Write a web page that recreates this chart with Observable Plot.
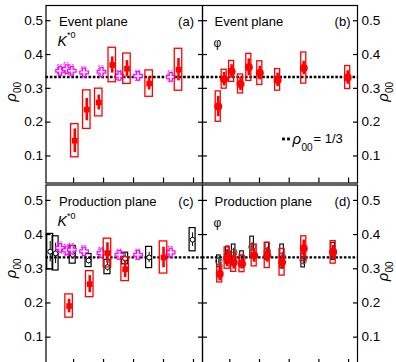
<!DOCTYPE html>
<html><head><meta charset="utf-8">
<script src="https://cdn.jsdelivr.net/npm/d3@7"></script>
<script src="https://cdn.jsdelivr.net/npm/@observablehq/plot@0.6"></script>
<style>
html,body{margin:0;padding:0;background:#fff;}
#chart{position:relative;width:396px;height:362px;overflow:hidden;}
</style></head><body><div id="chart"></div>
<script>
// ---------- axis ticks / reference ----------
const yTicks = [0.1, 0.2, 0.3, 0.4, 0.5];
const xTicks = [1, 2, 3, 4, 5];
const rhoRef = [1 / 3];

// ---------- (a) K*0, event plane, Pb-Pb (red) ----------
const aPt   = [1.04, 1.44, 1.84, 2.29, 2.78, 3.52, 4.50];
const aRho  = [0.145, 0.237, 0.258, 0.369, 0.358, 0.314, 0.355];
const aStat = [0.035, 0.033, 0.022, 0.024, 0.024, 0.019, 0.033];
const aSys  = [0.049, 0.057, 0.041, 0.051, 0.045, 0.039, 0.062];
// (a) K0S control (magenta)
const kPtA   = [0.55, 0.77, 0.94, 1.35, 1.93, 2.53, 3.15, 4.24];
const kRhoA  = [0.352, 0.357, 0.352, 0.347, 0.349, 0.337, 0.337, 0.334];
const kStatA = [0.004, 0.004, 0.004, 0.004, 0.004, 0.004, 0.004, 0.004];
const kSysA  = [0.016, 0.017, 0.016, 0.015, 0.016, 0.014, 0.015, 0.016];

// ---------- (b) phi, event plane, Pb-Pb ----------
const bPt   = [0.61, 0.81, 1.06, 1.36, 1.64, 2.01, 2.61, 3.49, 4.97];
const bRho  = [0.246, 0.327, 0.350, 0.313, 0.362, 0.345, 0.325, 0.360, 0.332];
const bStat = [0.030, 0.020, 0.020, 0.020, 0.025, 0.020, 0.020, 0.020, 0.020];
const bSys  = [0.045, 0.028, 0.031, 0.028, 0.040, 0.035, 0.032, 0.046, 0.034];

// ---------- (c) K*0, production plane ----------
const cPt   = [0.85, 1.54, 2.13, 2.72, 4.00];
const cRho  = [0.191, 0.255, 0.346, 0.299, 0.333];
const cStat = [0.020, 0.025, 0.030, 0.025, 0.030];
const cSys  = [0.034, 0.038, 0.042, 0.035, 0.047];
// (c) pp (black)
const ppPtC   = [0.22, 0.40, 0.97, 1.50, 2.13, 2.72, 3.52, 4.97];
const ppRhoC  = [0.350, 0.345, 0.341, 0.324, 0.305, 0.330, 0.333, 0.385];
const ppStatC = [0.030, 0.030, 0.012, 0.010, 0.012, 0.015, 0.015, 0.020];
const ppSysC  = [0.052, 0.050, 0.026, 0.019, 0.021, 0.017, 0.031, 0.034];
// (c) K0S control (magenta)
const kPtC   = [0.55, 0.77, 0.94, 1.35, 1.93, 2.53, 3.15, 4.24];
const kRhoC  = [0.361, 0.354, 0.356, 0.351, 0.346, 0.341, 0.341, 0.348];
const kStatC = [0.004, 0.004, 0.004, 0.004, 0.004, 0.004, 0.004, 0.004];
const kSysC  = [0.016, 0.016, 0.016, 0.015, 0.015, 0.015, 0.015, 0.016];

// ---------- (d) phi, production plane ----------
const dPt   = [0.66, 0.91, 1.13, 1.41, 1.82, 2.26, 2.76, 3.49, 4.48];
const dRho  = [0.285, 0.331, 0.319, 0.314, 0.339, 0.339, 0.319, 0.359, 0.348];
const dStat = [0.020, 0.025, 0.020, 0.015, 0.020, 0.020, 0.020, 0.025, 0.020];
const dSys  = [0.025, 0.031, 0.028, 0.024, 0.032, 0.037, 0.039, 0.036, 0.033];
// (d) pp (black)
const ppPtD   = [0.63, 0.93, 1.13, 1.41, 1.75, 2.26, 2.76, 3.47, 4.48];
const ppRhoD  = [0.322, 0.340, 0.348, 0.331, 0.364, 0.351, 0.336, 0.324, 0.351];
const ppStatD = [0.012, 0.012, 0.012, 0.010, 0.012, 0.012, 0.012, 0.012, 0.012];
const ppSysD  = [0.017, 0.025, 0.023, 0.020, 0.030, 0.025, 0.035, 0.020, 0.025];

// ---------- helpers ----------
const zip = (pt, v, st, sy) => pt.map((p, i) => ({pt: p, v: v[i], st: st[i], sy: sy[i]}));
const RED = "#ff0000", MAG = "#ff00ff";
const FONT = "'Liberation Sans', Arial, Helvetica, sans-serif";

function series(data, o) {
  return [
    Plot.rect(data, {x1: d => d.pt - o.hw, x2: d => d.pt + o.hw, y1: d => d.v - d.sy, y2: d => d.v + d.sy,
      fill: "none", stroke: o.color, strokeWidth: o.boxW ?? 1.3, strokeDasharray: o.dash}),
    Plot.ruleX(data, {x: "pt", y1: d => d.v - d.st, y2: d => d.v + d.st, stroke: o.color, strokeWidth: o.statW ?? 1}),
    Plot.dot(data, {x: "pt", y: "v", symbol: o.symbol, r: o.r, fill: o.fill ?? "none",
      stroke: o.mStroke ?? "none", strokeWidth: o.mW ?? 1.1})
  ];
}

function txt(s, o) {
  return Plot.text([s], {text: d => d, fontFamily: FONT, lineAnchor: "middle", fill: "#000", ...o});
}

function panel({left, top, width, height, mL, mR, mT, mB, labelSide, marks}) {
  const lbl = d3.format(".1f");
  const svg = Plot.plot({
    width, height, marginLeft: mL, marginRight: mR, marginTop: mT, marginBottom: mB,
    style: {background: "transparent", position: "absolute", left: left + "px", top: top + "px",
      fontFamily: FONT, fontSize: "13.5px", color: "#000", overflow: "visible", maxWidth: "none"},
    x: {domain: [0.08, 5.3]},
    y: {domain: [0.02, 0.545]},
    marks: [
      Plot.ruleY(rhoRef, {stroke: "#000", strokeWidth: 2.4, strokeDasharray: "2.6,1.7"}),
      ...marks,
      Plot.frame({stroke: "#000", strokeWidth: 1.2}),
      Plot.axisY(yTicks, {anchor: "left", tickSize: -5, tickPadding: 8, label: null, strokeWidth: 1.2,
        tickFormat: labelSide === "left" ? lbl : () => ""}),
      Plot.axisY(yTicks, {anchor: "right", tickSize: -5, tickPadding: 9, label: null, strokeWidth: 1.2,
        tickFormat: labelSide === "right" ? lbl : () => ""}),
      Plot.axisX(xTicks, {anchor: "bottom", tickSize: -5, label: null, strokeWidth: 1.2, tickFormat: () => ""})
    ]
  });
  document.getElementById("chart").appendChild(svg);
}

const rhoLeft = (dy) => [
  txt("ρ", {frameAnchor: "top-left", dx: -35, dy, rotate: -90, fontSize: 15, fontStyle: "italic", textAnchor: "middle"}),
  txt("00", {frameAnchor: "top-left", dx: -28, dy: dy - 10, rotate: -90, fontSize: 10, textAnchor: "middle"})
];
const rhoRight = (dy) => [
  txt("ρ", {frameAnchor: "top-right", dx: 26, dy, rotate: -90, fontSize: 15, fontStyle: "italic", textAnchor: "middle"}),
  txt("00", {frameAnchor: "top-right", dx: 32.5, dy: dy - 10, rotate: -90, fontSize: 10, textAnchor: "middle"})
];

const kstarLabel = (dy) => [
  txt("K", {frameAnchor: "top-left", dx: 11.5, dy, fontSize: 14, fontStyle: "italic", textAnchor: "start"}),
  txt("*0", {frameAnchor: "top-left", dx: 21, dy: dy - 6, fontSize: 9, textAnchor: "start"})
];

// ---------- (a) ----------
panel({left: 0, top: 0, width: 205, height: 186, mL: 45.5, mR: 3, mT: 5, mB: 3.5, labelSide: "left",
  marks: [
    ...series(zip(kPtA, kRhoA, kStatA, kSysA), {color: MAG, hw: 0.075, boxW: 1, dash: "1.5,1.5", symbol: "cross", r: 3.6, mStroke: MAG, mW: 1.2, fill: "white"}),
    ...series(zip(aPt, aRho, aStat, aSys), {color: RED, hw: 0.125, statW: 2.6, symbol: "square", r: 3.2, fill: RED}),
    txt("Event plane", {frameAnchor: "top-left", dx: 13, dy: 16, fontSize: 13, textAnchor: "start"}),
    txt("(a)", {frameAnchor: "top-right", dx: -8.5, dy: 16, fontSize: 13, textAnchor: "end"}),
    ...kstarLabel(36),
    ...rhoLeft(92)
  ]});

// ---------- (b) ----------
panel({left: 199, top: 0, width: 197, height: 186, mL: 3, mR: 39, mT: 5, mB: 3.5, labelSide: "right",
  marks: [
    ...series(zip(bPt, bRho, bStat, bSys), {color: RED, hw: 0.085, statW: 2.6, symbol: "circle", r: 4, fill: RED}),
    txt("Event plane", {frameAnchor: "top-left", dx: 12, dy: 16, fontSize: 13, textAnchor: "start"}),
    txt("(b)", {frameAnchor: "top-right", dx: -7, dy: 16, fontSize: 13, textAnchor: "end"}),
    txt("φ", {frameAnchor: "top-left", dx: 11, dy: 38, fontSize: 12, textAnchor: "start"}),
    Plot.dot([0], {frameAnchor: "top-left", dx: 81, dy: 133.5, symbol: "square", r: 1.6, fill: "#000"}),
    Plot.dot([0], {frameAnchor: "top-left", dx: 86, dy: 133.5, symbol: "square", r: 1.6, fill: "#000"}),
    txt("ρ", {frameAnchor: "top-left", dx: 90, dy: 134, fontSize: 15, fontStyle: "italic", textAnchor: "start"}),
    txt("00", {frameAnchor: "top-left", dx: 99, dy: 142, fontSize: 10, textAnchor: "start"}),
    txt("= 1/3", {frameAnchor: "top-left", dx: 111, dy: 133.5, fontSize: 13, textAnchor: "start"}),
    ...rhoRight(92)
  ]});

// ---------- (c) ----------
panel({left: 0, top: 181, width: 205, height: 185, mL: 45.5, mR: 3, mT: 3.5, mB: 2, labelSide: "left",
  marks: [
    ...series(zip(ppPtC, ppRhoC, ppStatC, ppSysC), {color: "#000", hw: 0.1, boxW: 1.2, statW: 1, symbol: "circle", r: 2.4, mStroke: "#000", mW: 1, fill: "white"}),
    ...series(zip(kPtC, kRhoC, kStatC, kSysC), {color: MAG, hw: 0.075, boxW: 1, dash: "1.5,1.5", symbol: "cross", r: 3.6, mStroke: MAG, mW: 1.2, fill: "white"}),
    ...series(zip(cPt, cRho, cStat, cSys), {color: RED, hw: 0.125, statW: 2.6, symbol: "square", r: 3.2, fill: RED}),
    txt("Production plane", {frameAnchor: "top-left", dx: 13, dy: 16.5, fontSize: 13, textAnchor: "start"}),
    txt("(c)", {frameAnchor: "top-right", dx: -9, dy: 16.5, fontSize: 13, textAnchor: "end"}),
    ...kstarLabel(37),
    ...rhoLeft(89)
  ]});

// ---------- (d) ----------
panel({left: 199, top: 181, width: 197, height: 185, mL: 3, mR: 39, mT: 3.5, mB: 2, labelSide: "right",
  marks: [
    ...series(zip(ppPtD, ppRhoD, ppStatD, ppSysD), {color: "#000", hw: 0.06, boxW: 1.1, statW: 1, symbol: "circle", r: 3.4, mStroke: "#555", mW: 1, fill: "none"}),
    ...series(zip(dPt, dRho, dStat, dSys), {color: RED, hw: 0.085, statW: 2.6, symbol: "circle", r: 4, fill: RED}),
    txt("Production plane", {frameAnchor: "top-left", dx: 12, dy: 16.5, fontSize: 13, textAnchor: "start"}),
    txt("(d)", {frameAnchor: "top-right", dx: -7, dy: 16.5, fontSize: 13, textAnchor: "end"}),
    txt("φ", {frameAnchor: "top-left", dx: 11, dy: 38.5, fontSize: 12, textAnchor: "start"}),
    ...rhoRight(92)
  ]});
</script></body></html>
